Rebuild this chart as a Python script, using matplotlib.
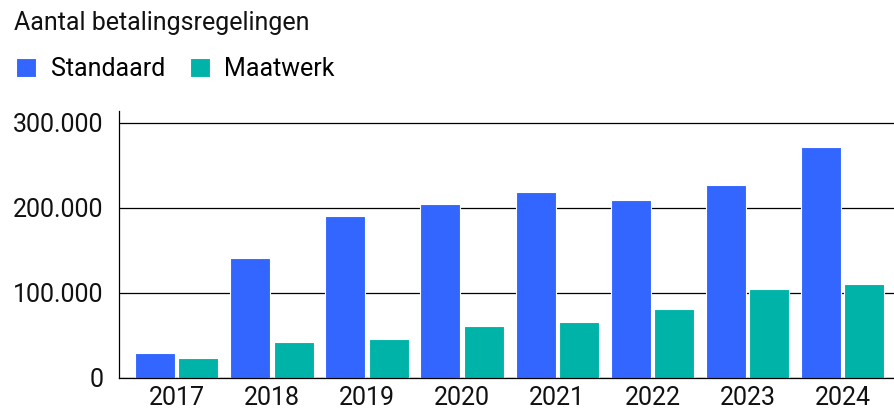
import numpy as np
import matplotlib
matplotlib.use("Agg")
from matplotlib import pyplot as plt
from matplotlib.ticker import FuncFormatter

years = ["2017", "2018", "2019", "2020", "2021", "2022", "2023", "2024"]
standaard = [28700, 140800, 190000, 204000, 218500, 209000, 226500, 271000]
maatwerk = [23500, 41600, 45900, 61200, 65900, 80400, 104700, 110600]

blue = "#3366FF"
teal = "#00B3A8"

plt.rcParams["font.family"] = ["Roboto", "DejaVu Sans"]
fs = 18

fig = plt.figure(figsize=(8.95, 4.12), dpi=100)
ax = fig.add_axes([119 / 895, 1 - 377.7 / 412, 1 - 119 / 895, (377.7 - 111) / 412])

x = np.arange(len(years))
w = 0.42
ax.bar(x - 0.228, standaard, w, color=blue, edgecolor="white", linewidth=0.8, label="Standaard", zorder=2)
ax.bar(x + 0.228, maatwerk, w, color=teal, edgecolor="white", linewidth=0.8, label="Maatwerk", zorder=2)

ax.set_xlim(-0.607, 7.55)
ax.set_ylim(0, 313800)
ax.set_xticks(x)
ax.set_xticklabels(years)
ax.set_yticks([0, 100000, 200000, 300000])
ax.yaxis.set_major_formatter(FuncFormatter(lambda v, p: f"{int(v):,}".replace(",", ".")))
ax.tick_params(axis="both", length=0, labelsize=fs, colors="#111111")
ax.tick_params(axis="y", pad=11)
ax.tick_params(axis="x", pad=6)

ax.set_axisbelow(True)
ax.yaxis.grid(True, color="black", linewidth=0.9)
for s in ["top", "right"]:
    ax.spines[s].set_visible(False)
ax.spines["left"].set_color("black")
ax.spines["bottom"].set_color("black")
ax.spines["left"].set_linewidth(0.9)
ax.spines["bottom"].set_linewidth(0.9)

fig.text(14 / 895, 1 - 23 / 412, "Aantal betalingsregelingen", fontsize=fs, va="center", ha="left", color="#111111")

ax.legend(loc="center left", bbox_to_anchor=(16 / 895, 1 - 69 / 412), bbox_transform=fig.transFigure,
          ncol=2, frameon=False, fontsize=fs, handlelength=0.8, handleheight=0.8,
          handletextpad=0.58, columnspacing=1.0, borderpad=0, borderaxespad=0)

fig.savefig("out.png", dpi=100)
